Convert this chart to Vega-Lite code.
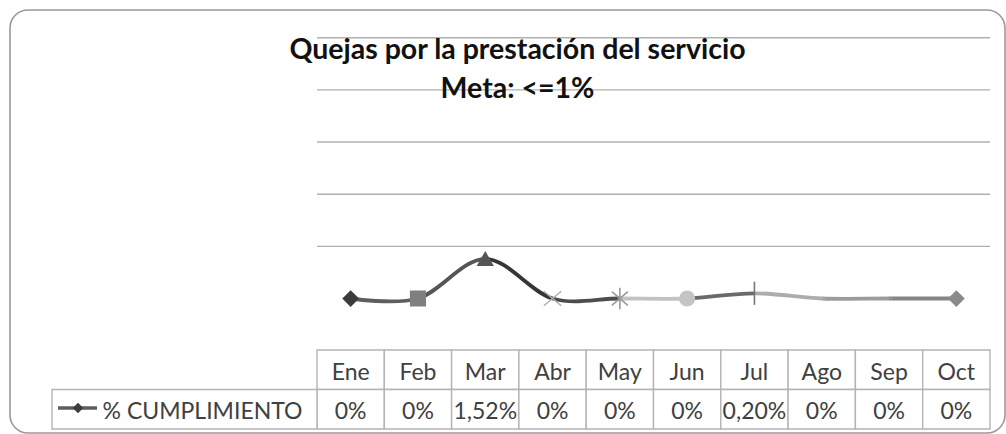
{
  "$schema": "https://vega.github.io/schema/vega-lite/v6.json",
  "width": 995,
  "height": 423,
  "autosize": {"type": "none"},
  "padding": {"left": 10, "top": 10, "right": 1, "bottom": 1},
  "background": "white",
  "config": {
    "view": {"stroke": "#999999", "strokeWidth": 1.6, "cornerRadius": 18, "fill": "white"},
    "font": "Lato"
  },
  "title": {
    "text": ["Quejas por la prestación del servicio", "Meta: <=1%"],
    "anchor": "middle",
    "frame": "group",
    "font": "Lato",
    "fontSize": 28.5,
    "fontWeight": "bold",
    "color": "#111111",
    "lineHeight": 39,
    "offset": -93,
    "dx": 10
  },
  "datasets": {
    "meses": [
      {"mes": "Ene", "orden": 1, "cumplimiento": 0, "etiqueta": "0%"},
      {"mes": "Feb", "orden": 2, "cumplimiento": 0, "etiqueta": "0%"},
      {"mes": "Mar", "orden": 3, "cumplimiento": 0.0152, "etiqueta": "1,52%"},
      {"mes": "Abr", "orden": 4, "cumplimiento": 0, "etiqueta": "0%"},
      {"mes": "May", "orden": 5, "cumplimiento": 0, "etiqueta": "0%"},
      {"mes": "Jun", "orden": 6, "cumplimiento": 0, "etiqueta": "0%"},
      {"mes": "Jul", "orden": 7, "cumplimiento": 0.002, "etiqueta": "0,20%"},
      {"mes": "Ago", "orden": 8, "cumplimiento": 0, "etiqueta": "0%"},
      {"mes": "Sep", "orden": 9, "cumplimiento": 0, "etiqueta": "0%"},
      {"mes": "Oct", "orden": 10, "cumplimiento": 0, "etiqueta": "0%"}
    ],
    "rejilla": [
      {"nivel": 0.02}, {"nivel": 0.04}, {"nivel": 0.06}, {"nivel": 0.08}, {"nivel": 0.1}
    ],
    "serie": [
      {"nombre": "% CUMPLIMIENTO"}
    ]
  },
  "layer": [
    {
      "layer": [
        {
          "data": {"name": "rejilla"},
          "mark": {"type": "rule", "color": "#b0b0b0", "strokeWidth": 1.4},
          "encoding": {
            "x": {"datum": 0.5, "type": "quantitative", "scale": {"domain": [-4.0617, 10.7229], "nice": false, "zero": false}, "axis": null},
            "x2": {"datum": 10.5},
            "y": {"field": "nivel", "type": "quantitative", "scale": {"domain": [-0.05157, 0.11062], "nice": false, "zero": false}, "axis": null}
          }
        },
        {
          "data": {"name": "meses"},
          "mark": {
            "type": "line",
            "interpolate": "cardinal",
            "strokeWidth": 3.8,
            "stroke": {
              "gradient": "linear", "x1": 0, "y1": 0, "x2": 1, "y2": 0,
              "stops": [
                {"offset": 0, "color": "#5e5e5e"}, {"offset": 0.1111, "color": "#5e5e5e"},
                {"offset": 0.1111, "color": "#555555"}, {"offset": 0.2222, "color": "#555555"},
                {"offset": 0.2222, "color": "#363636"}, {"offset": 0.3333, "color": "#363636"},
                {"offset": 0.3333, "color": "#4d4d4d"}, {"offset": 0.4444, "color": "#4d4d4d"},
                {"offset": 0.4444, "color": "#c2c2c2"}, {"offset": 0.5556, "color": "#c2c2c2"},
                {"offset": 0.5556, "color": "#6a6a6a"}, {"offset": 0.6667, "color": "#6a6a6a"},
                {"offset": 0.6667, "color": "#acacac"}, {"offset": 0.7778, "color": "#acacac"},
                {"offset": 0.7778, "color": "#9c9c9c"}, {"offset": 0.8889, "color": "#9c9c9c"},
                {"offset": 0.8889, "color": "#858585"}, {"offset": 1, "color": "#858585"}
              ]
            }
          },
          "encoding": {
            "x": {"field": "orden", "type": "quantitative"},
            "y": {"field": "cumplimiento", "type": "quantitative"}
          }
        },
        {
          "data": {"name": "meses"},
          "mark": {"type": "point", "filled": true, "size": 210, "strokeWidth": 1.6, "opacity": 1},
          "encoding": {
            "x": {"field": "orden", "type": "quantitative"},
            "y": {"field": "cumplimiento", "type": "quantitative"},
            "shape": {
              "field": "mes", "type": "nominal", "legend": null,
              "scale": {
                "domain": ["Ene", "Feb", "Mar", "Abr", "May", "Jun", "Jul", "Ago", "Sep", "Oct"],
                "range": ["diamond", "square", "triangle-up", "M-1.2,-1L1.2,1M-1.2,1L1.2,-1", "M-1.1,-0.95L1.1,0.95M-1.1,0.95L1.1,-0.95M0,-1.5L0,1.5", "circle", "M0,-1.6L0,1.6", "M-0.5,0L0.5,0", "M-0.5,0L0.5,0", "diamond"]
              }
            },
            "color": {
              "field": "mes", "type": "nominal", "legend": null,
              "scale": {
                "domain": ["Ene", "Feb", "Mar", "Abr", "May", "Jun", "Jul", "Ago", "Sep", "Oct"],
                "range": ["#3c3c3c", "#7f7f7f", "#555555", "#b0b0b0", "#9a9a9a", "#c4c4c4", "#777777", "#acacac", "#9c9c9c", "#8a8a8a"]
              }
            },
            "stroke": {
              "field": "mes", "type": "nominal", "legend": null,
              "scale": {
                "domain": ["Ene", "Feb", "Mar", "Abr", "May", "Jun", "Jul", "Ago", "Sep", "Oct"],
                "range": ["#3c3c3c", "#7f7f7f", "#555555", "#b0b0b0", "#9a9a9a", "#c4c4c4", "#777777", "#acacac", "#9c9c9c", "#8a8a8a"]
              }
            }
          }
        }
      ]
    },
    {
      "layer": [
        {
          "data": {"name": "meses"},
          "mark": {"type": "rect", "width": 67.3, "fill": "white", "stroke": "#b4b4b4", "strokeWidth": 1.4},
          "encoding": {
            "x": {"field": "orden", "type": "quantitative"},
            "y": {"datum": 0, "type": "quantitative", "scale": {"domain": [-8.6076, 2.1013], "reverse": true, "nice": false, "zero": false}, "axis": null},
            "y2": {"datum": 1}
          }
        },
        {
          "data": {"name": "meses"},
          "mark": {"type": "rect", "width": 67.3, "fill": "white", "stroke": "#b4b4b4", "strokeWidth": 1.4},
          "encoding": {
            "x": {"field": "orden", "type": "quantitative"},
            "y": {"datum": 1, "type": "quantitative"},
            "y2": {"datum": 2}
          }
        },
        {
          "data": {"name": "serie"},
          "mark": {"type": "rect", "fill": "white", "stroke": "#b4b4b4", "strokeWidth": 1.4},
          "encoding": {
            "x": {"datum": -3.4376, "type": "quantitative"},
            "x2": {"datum": 0.5},
            "y": {"datum": 1, "type": "quantitative"},
            "y2": {"datum": 2}
          }
        },
        {
          "data": {"name": "meses"},
          "mark": {"type": "text", "fontSize": 23, "color": "#404040", "baseline": "middle", "dy": 3},
          "encoding": {
            "x": {"field": "orden", "type": "quantitative"},
            "y": {"datum": 0.5, "type": "quantitative"},
            "text": {"field": "mes"}
          }
        },
        {
          "data": {"name": "meses"},
          "mark": {"type": "text", "fontSize": 23, "color": "#404040", "baseline": "middle", "dy": 3},
          "encoding": {
            "x": {"field": "orden", "type": "quantitative"},
            "y": {"datum": 1.5, "type": "quantitative"},
            "text": {"field": "etiqueta"}
          }
        },
        {
          "data": {"name": "serie"},
          "mark": {"type": "text", "fontSize": 23, "color": "#404040", "baseline": "middle", "dy": 3},
          "encoding": {
            "x": {"datum": -1.201, "type": "quantitative"},
            "y": {"datum": 1.5, "type": "quantitative"},
            "text": {"field": "nombre"}
          }
        },
        {
          "data": {"name": "serie"},
          "mark": {"type": "rule", "color": "#5e5e5e", "strokeWidth": 3.4},
          "encoding": {
            "x": {"datum": -3.348, "type": "quantitative"},
            "x2": {"datum": -2.769},
            "y": {"datum": 1.468, "type": "quantitative"}
          }
        },
        {
          "data": {"name": "serie"},
          "mark": {"type": "point", "shape": "diamond", "filled": true, "size": 110, "color": "#3c3c3c", "opacity": 1},
          "encoding": {
            "x": {"datum": -3.051, "type": "quantitative"},
            "y": {"datum": 1.468, "type": "quantitative"}
          }
        }
      ]
    }
  ],
  "resolve": {"scale": {"y": "independent"}}
}
